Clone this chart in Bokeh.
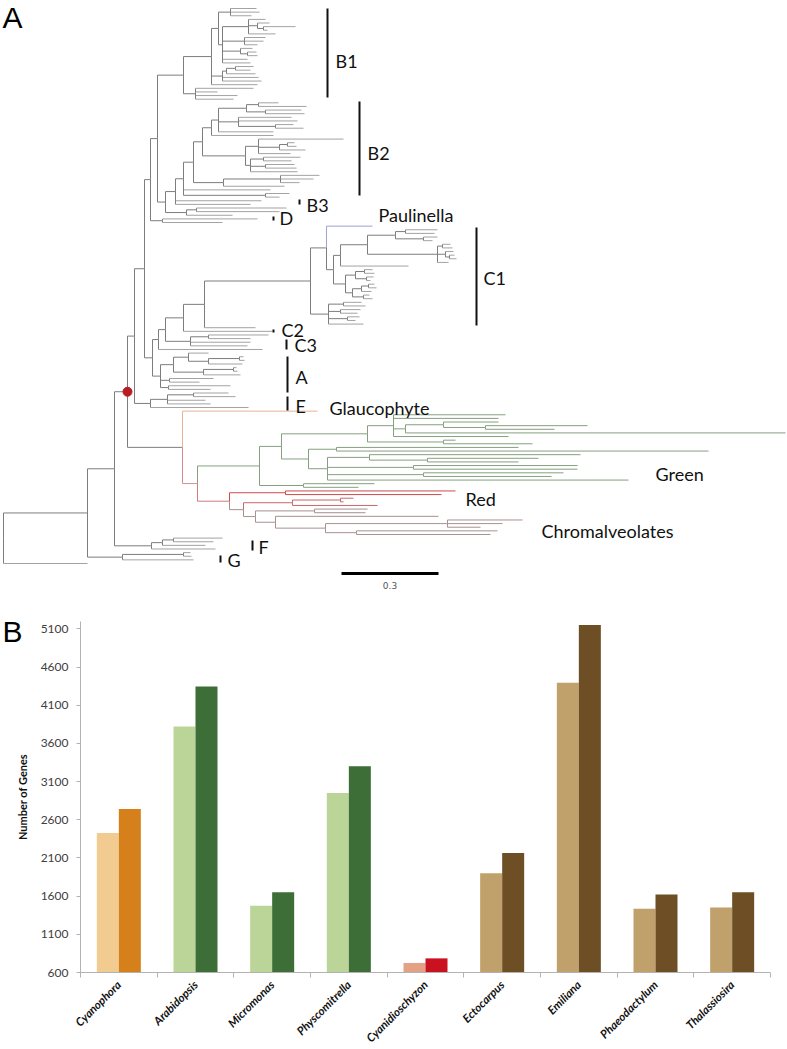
import math
from bokeh.plotting import figure
from bokeh.models import Range1d, FixedTicker, Label, ColumnDataSource
from bokeh.layouts import column
from bokeh.embed import file_html
from bokeh.resources import INLINE
from bokeh.core.properties import value

# ======================= Panel B data =======================
SPECIES = ["Cyanophora", "Arabidopsis", "Micromonas", "Physcomitrella",
           "Cyanidioschyzon", "Ectocarpus", "Emiliana", "Phaeodactylum", "Thalassiosira"]
SERIES_LIGHT = [2425, 3820, 1475, 2950, 725, 1900, 4395, 1435, 1450]
SERIES_DARK = [2740, 4345, 1650, 3300, 785, 2165, 5150, 1620, 1650]
LIGHT_COLORS = ["#F1CB8F", "#BBD598", "#BBD598", "#BBD598", "#E4A184",
                "#C0A06B", "#C0A06B", "#C0A06B", "#C0A06B"]
DARK_COLORS = ["#D6801B", "#3D6E38", "#3D6E38", "#3D6E38", "#C9111F",
               "#6E4F25", "#6E4F25", "#6E4F25", "#6E4F25"]
Y_TICKS = [600, 1100, 1600, 2100, 2600, 3100, 3600, 4100, 4600, 5100]

# ======================= Panel A data =======================
# Newick-like clades; numbers are root-to-node distances (97 units = 0.3 subst./site)
B1 = ("((((:253,:256,:248):227,((:262,(:266,(:292,:264):260):254,:272):245,(:262,:260,:254):241,"
      "(:249,(:253,:254):244):237,:244,:247):219):215,(((:250,:247):232,:252):223,:255,:258):219,"
      ":254):208,(:250,:214,:234,:230):192)B1:180")
B2_TOP = "(((:275,:303):255,(:298,:301):262):243,(:288,:294,(:290,:300):272):235,:270)"
B2_MID = "((:340,((:291,:293):284,:302):276,:287):255,((:297,:288):260,(:291,:293):262,:294):247)"
B2_LOW = "((:316,:310,:296):277,:281)"
B2 = ("(((((({B2_TOP}:215,:270):208,{B2_MID}:242):199,{B2_LOW}:220):190,:267,(:286,:276):262):180,"
      ":258,:247):172,((:283,:276):193,:229):183):162")
BNODE = "(({B1},{B2}):154,(:254,:219):159):147"
C1_UP_A = ("(((:434,:431):402,(:434,:429):420):392,((:447,:449):439,"
           "(:450,(:451,:453):446):442,:445):434):364")
C1_UP_B = "(((:369,:371):361,(:370,:367):363):352,(((:371,:373):365,:368):358,(:366,:369):360):349):342"
C1_LOW = "((:358,:362):340,(:357,:354):337,(:356,:352):344,:360):325"
C1 = "((Paulinella:369,(({C1_UP_A},:405):337,{C1_UP_B}):330):323,{C1_LOW}):307"
CGROUP = "(((({C1},:252):201,:269):180,((:265,:247):205,:247,:244):187):162,:259):155"
AGROUP = ("(((:205,((:240,:241):236,:239):205):185,((:233,:234):230,:237):200):170,"
          "(:210,:196):166,(:227,:207):165):157")
EGROUP = "(((:225,:232):190,:202,:207):164,:245):147"
CYANO = "(({BNODE},({CGROUP},{AGROUP}):149):141,{EGROUP}):131"
GREEN_UP = "((:502,:495,((:495,(:584,:551):482):440,:782):402,:505):390,(:452,:529):440):364"
GREEN_LOW = "((:515,:705):333,((:577,(:535,:515):424):366,(:574,:574):410,(:560,:548):420,:625):324):305"
GREEN = "(({GREEN_UP},{GREEN_LOW}):278,(:371,:355):300)green:256"
RED_CHROM = ("((:452,:438)red:282,(((:350,:340):337,:374)red2:289,((:364,:362):311,"
             "(:435,((:519,:499,:477):444,(:494,:487):353):322):272):252)chrom:240)rc:226")
PLASTID = "(Glaucophyte:314,({GREEN},{RED_CHROM})pg:194):179"
FGROUP = "(((:219,:210):170,:202):159,:212):148"
GGROUP = "((:187,:188):180,:190):119"
TREE = "(((({CYANO},{PLASTID})RD:124,{FGROUP}):111,{GGROUP}):84,:84)"

CLADE_COLORS = {"Paulinella": "#9ea3d3", "Glaucophyte": "#e9b295", "pg": "#d98a8a",
                "green": "#86a07f", "red": "#cc4a4d", "red2": "#c86767", "rc": "#d07a7a",
                "chrom": "#a89090"}
CLADE_BARS = [(324, 8, 97), (356, 101, 195), (296, 199, 204), (270, 216, 220),
              (473, 227, 325), (270, 329, 332), (283, 339, 349), (284, 356, 392),
              (284, 396, 410), (249, 540, 550), (217, 555, 562)]
TREE_LABELS = [("B1", 332, 60), ("B2", 364, 152), ("B3", 303, 204), ("D", 276, 217),
               ("Paulinella", 375, 214), ("C1", 480, 277), ("C2", 278, 329), ("C3", 291, 344),
               ("A", 292, 376), ("E", 292, 405), ("Glaucophyte", 326, 407), ("Green", 652, 473),
               ("Red", 462, 498), ("Chromalveolates", 538, 530), ("F", 255, 546), ("G", 224, 559)]
SCALE_BAR = 97          # units for 0.3 substitutions / site
SCALE_LABEL = "0.3"

# ======================= build tree =======================
parts = dict(B1=B1, B2_TOP=B2_TOP, B2_MID=B2_MID, B2_LOW=B2_LOW, B2=B2, BNODE=BNODE,
             C1_UP_A=C1_UP_A, C1_UP_B=C1_UP_B, C1_LOW=C1_LOW, C1=C1,
             CGROUP=CGROUP, AGROUP=AGROUP, EGROUP=EGROUP, CYANO=CYANO, GREEN_UP=GREEN_UP,
             GREEN_LOW=GREEN_LOW, GREEN=GREEN, RED_CHROM=RED_CHROM, PLASTID=PLASTID,
             FGROUP=FGROUP, GGROUP=GGROUP)
s = TREE
for _ in range(12):
    for k, v in parts.items():
        s = s.replace("{" + k + "}", v)
s = s.replace(" ", "")


def parse(txt):
    pos = [0]

    def node():
        n = {"children": [], "name": "", "d": 0.0}
        if pos[0] < len(txt) and txt[pos[0]] == "(":
            pos[0] += 1
            while True:
                n["children"].append(node())
                if pos[0] >= len(txt):
                    break
                ch = txt[pos[0]]
                pos[0] += 1
                if ch == ")":
                    break
        st = pos[0]
        while pos[0] < len(txt) and txt[pos[0]] not in ":,()":
            pos[0] += 1
        n["name"] = txt[st:pos[0]]
        if pos[0] < len(txt) and txt[pos[0]] == ":":
            pos[0] += 1
            st = pos[0]
            while pos[0] < len(txt) and txt[pos[0]] not in ",()":
                pos[0] += 1
            n["d"] = float(txt[st:pos[0]])
        return n
    return node()


root = parse(s)
root["d"] = 0.0


def count(n):
    return 1 if not n["children"] else sum(count(c) for c in n["children"])


N = count(root)
Y_FIRST, Y_LAST = 8.0, 563.0
SP = (Y_LAST - Y_FIRST) / (N - 1)
idx = [0]
named = {}


def place(n):
    if n["children"]:
        for c in n["children"]:
            place(c)
        n["y"] = (n["children"][0]["y"] + n["children"][-1]["y"]) / 2
    else:
        n["y"] = Y_FIRST + idx[0] * SP
        idx[0] += 1
    if n["name"]:
        named[n["name"]] = n


place(root)

GRAY_INT = "#7d7d7d"
GRAY_LEAF = "#a3a3a3"
seg = {"x0": [], "y0": [], "x1": [], "y1": [], "c": []}


def draw(n, color):
    for c in n["children"]:
        cc = CLADE_COLORS.get(c["name"], color)
        vcol = cc if cc else GRAY_INT
        hcol = cc if cc else (GRAY_INT if c["children"] else GRAY_LEAF)
        seg["x0"] += [n["d"], n["d"]]
        seg["y0"] += [n["y"], c["y"]]
        seg["x1"] += [n["d"], c["d"]]
        seg["y1"] += [c["y"], c["y"]]
        seg["c"] += [vcol, hcol]
        draw(c, cc)


draw(root, None)

W = 787
HA = 592
HB = 1049 - HA
ROOT_PX = 3  # root sits 3px from the left edge

pA = figure(width=W, height=HA, x_range=Range1d(-ROOT_PX, W - ROOT_PX), y_range=Range1d(HA, 0),
            output_backend="svg", toolbar_location=None, min_border=0,
            x_axis_location=None, y_axis_location=None)
pA.grid.visible = False
pA.outline_line_color = None
pA.segment("x0", "y0", "x1", "y1", source=ColumnDataSource(seg), line_color="c", line_width=1)
rd = named["RD"]
pA.scatter([rd["d"]], [rd["y"]], size=9, fill_color="#b81d23", line_color="#b81d23")

bars = dict(x=[b[0] for b in CLADE_BARS], y0=[b[1] for b in CLADE_BARS], y1=[b[2] for b in CLADE_BARS])
pA.segment(x0="x", y0="y0", x1="x", y1="y1", source=ColumnDataSource(bars),
           line_color="#111111", line_width=2)
lab = dict(t=[l[0] for l in TREE_LABELS], x=[l[1] for l in TREE_LABELS], y=[l[2] for l in TREE_LABELS])
pA.text(x="x", y="y", text="t", source=ColumnDataSource(lab), text_font=value("Lato"),
        text_font_size="18px", text_baseline="middle", text_align="left", text_color="#111111")
pA.segment(x0=[338], y0=[573], x1=[338 + SCALE_BAR], y1=[573], line_color="black", line_width=3)
pA.text(x=[338 + SCALE_BAR / 2], y=[585], text=[SCALE_LABEL], text_font=value("DejaVu Sans"),
        text_font_size="9px", text_align="center", text_baseline="middle", text_color="#555555")
pA.add_layout(Label(x=-1, y=17, text="A", text_font="Liberation Sans", text_font_size="30px",
                    text_baseline="middle", text_align="left", text_color="black"))

# ======================= Panel B =======================
BW = 0.287
Y_START, Y_END = 600, 5196
FRAME_L, FRAME_R, FRAME_T, FRAME_B = 80, 770, 621 - HA, 972 - HA   # plot area inside panel B (px)
PX_PER_CAT = (FRAME_R - FRAME_L) / len(SPECIES)
UNITS_PER_PX = (Y_END - Y_START) / (FRAME_B - FRAME_T)
xs = list(range(len(SPECIES)))
x_lo = -0.5 - FRAME_L / PX_PER_CAT
x_hi = len(SPECIES) - 0.5 + (W - FRAME_R) / PX_PER_CAT
y_lo = Y_START - (HB - FRAME_B) * UNITS_PER_PX
y_hi = Y_END + FRAME_T * UNITS_PER_PX

pB = figure(width=W, height=HB, x_range=Range1d(x_lo, x_hi), y_range=Range1d(y_lo, y_hi),
            output_backend="svg", toolbar_location=None, min_border=0)
pB.grid.visible = False
pB.outline_line_color = None
pB.vbar(x=[x - BW / 2 for x in xs], top=SERIES_LIGHT, bottom=Y_START, width=BW,
        fill_color=LIGHT_COLORS, line_color=None)
pB.vbar(x=[x + BW / 2 for x in xs], top=SERIES_DARK, bottom=Y_START, width=BW,
        fill_color=DARK_COLORS, line_color=None)

ax = pB.yaxis[0]
ax.fixed_location = -0.5
ax.bounds = (Y_START, Y_END)
ax.ticker = FixedTicker(ticks=Y_TICKS)
ax.axis_line_color = "#b3b3b3"
ax.major_tick_line_color = "#b3b3b3"
ax.minor_tick_line_color = None
ax.major_tick_out = 4
ax.major_tick_in = 0
ax.major_label_standoff = 8
ax.major_label_text_font = "Lato"
ax.major_label_text_font_size = "12px"
ax.major_label_text_color = "#404040"
ax.axis_label = "Number of Genes"
ax.axis_label_text_font = "Lato"
ax.axis_label_text_font_size = "11px"
ax.axis_label_text_font_style = "bold"
ax.axis_label_text_color = "#111111"
ax.axis_label_standoff = 9

bx = pB.xaxis[0]
bx.fixed_location = Y_START
bx.bounds = (-0.5, len(SPECIES) - 0.5)
bx.ticker = FixedTicker(ticks=xs, minor_ticks=[x - 0.5 for x in xs] + [len(xs) - 0.5])
bx.major_label_overrides = {i: n for i, n in enumerate(SPECIES)}
bx.axis_line_color = "#b3b3b3"
bx.major_tick_line_color = None
bx.major_tick_out = 0
bx.major_tick_in = 0
bx.minor_tick_line_color = "#b3b3b3"
bx.minor_tick_out = 5
bx.minor_tick_in = 0
bx.major_label_orientation = math.pi / 4
bx.major_label_standoff = 5
bx.major_label_text_font = "Lato"
bx.major_label_text_font_size = "11.5px"
bx.major_label_text_font_style = "bold italic"
bx.major_label_text_color = "#111111"

pB.add_layout(Label(x=x_lo + 2 / PX_PER_CAT, y=Y_END + (FRAME_T - 39) * UNITS_PER_PX,
                    text="B", text_font="Liberation Sans", text_font_size="30px",
                    text_baseline="middle", text_align="left", text_color="black"))

for p in (pA, pB):
    try:
        p.frame_align = False
    except Exception:
        pass

layout = column(pA, pB, spacing=0)
open("out.html", "w").write(file_html(layout, INLINE))
